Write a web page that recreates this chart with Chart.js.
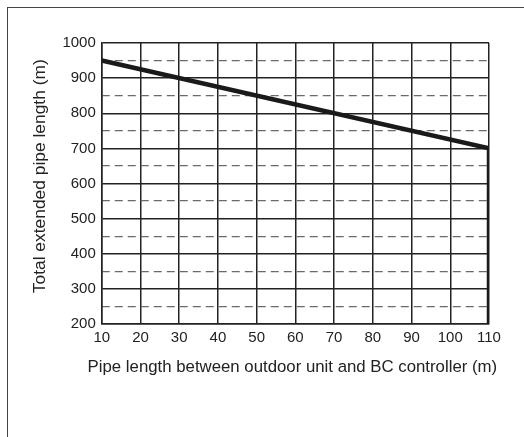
<!DOCTYPE html>
<html>
<head>
<meta charset="utf-8">
<script src="https://cdn.jsdelivr.net/npm/chart.js@4/dist/chart.umd.min.js"></script>
<style>
  body { margin: 0; background: #fff; }
  #frame { position: absolute; left: 7px; top: 7px; width: 600px; height: 500px;
           border-top: 1.5px solid #444; border-left: 1.5px solid #444; }
  #wrap { position: absolute; left: 0; top: 0; width: 524px; height: 437px; }
</style>
</head>
<body>
<div id="frame"></div>
<div id="wrap"><canvas id="grafico" width="524" height="437"></canvas></div>
<script>
// comprimento entre unidade externa e controlador BC (m)
const pipeLength = [10, 110, 110];
// comprimento total estendido permitido (m)
const totalLength = [950, 700, 200];
// linhas tracejadas intermediarias
const dashedTicks = [250, 350, 450, 550, 650, 750, 850, 950];

const tituloX = 'Pipe length between outdoor unit and BC controller (m)';
const fonte = "'Liberation Sans', Arial, sans-serif";

const pontos = pipeLength.map((x, i) => ({ x: x, y: totalLength[i] }));

// titulo do eixo x desenhado a mao, porque o do Chart.js fica espremido na largura do eixo
const tituloEixoX = {
    id: 'tituloEixoX',
    afterDraw(chart) {
        const { ctx, chartArea } = chart;
        ctx.save();
        ctx.font = '16.8px ' + fonte;
        ctx.fillStyle = '#222';
        ctx.textAlign = 'center';
        ctx.textBaseline = 'middle';
        ctx.fillText(tituloX, (chartArea.left + chartArea.right) / 2 - 3, chartArea.bottom + 43);
        ctx.restore();
    }
};

const ctx = document.getElementById('grafico').getContext('2d');
const grafico = new Chart(ctx, {
    type: 'scatter',
    data: {
        datasets: [{
            data: pontos,
            showLine: true,
            borderColor: '#1a1a1a',
            borderWidth: 4.5,
            pointRadius: 0,
            tension: 0,
            borderCapStyle: 'butt',
            borderJoinStyle: 'miter'
        }]
    },
    options: {
        responsive: false,
        animation: false,
        layout: { padding: { left: 26, top: 43, right: 35, bottom: 85 } },
        plugins: { legend: { display: false }, tooltip: { enabled: false } },
        scales: {
            x: {
                type: 'linear',
                min: 10, max: 110,
                ticks: { stepSize: 10, color: '#222', font: { family: fonte, size: 15 }, padding: 5,
                         callback: (v) => String(v) },
                grid: { color: '#222', lineWidth: 1.5, drawTicks: false },
                border: { color: '#222', width: 1.5 }
            },
            y: {
                min: 200, max: 1000,
                ticks: { stepSize: 100, color: '#222', font: { family: fonte, size: 15 }, padding: 6,
                         callback: (v) => String(v) },
                grid: { color: '#222', lineWidth: 1.5, drawTicks: false },
                border: { color: '#222', width: 1.5 },
                title: { display: true, text: '   Total extended pipe length (m)',
                         color: '#222', font: { family: fonte, size: 17.4 }, padding: { top: 4, bottom: 5.5 } }
            },
            y2: {
                position: 'right',
                min: 200, max: 1000,
                afterBuildTicks: (scale) => { scale.ticks = dashedTicks.map(v => ({ value: v })); },
                ticks: { display: false },
                grid: { color: '#6a6a6a', lineWidth: 1.3, drawTicks: false },
                border: { display: false, dash: [8, 5] }
            }
        }
    },
    plugins: [tituloEixoX]
});
</script>
</body>
</html>
